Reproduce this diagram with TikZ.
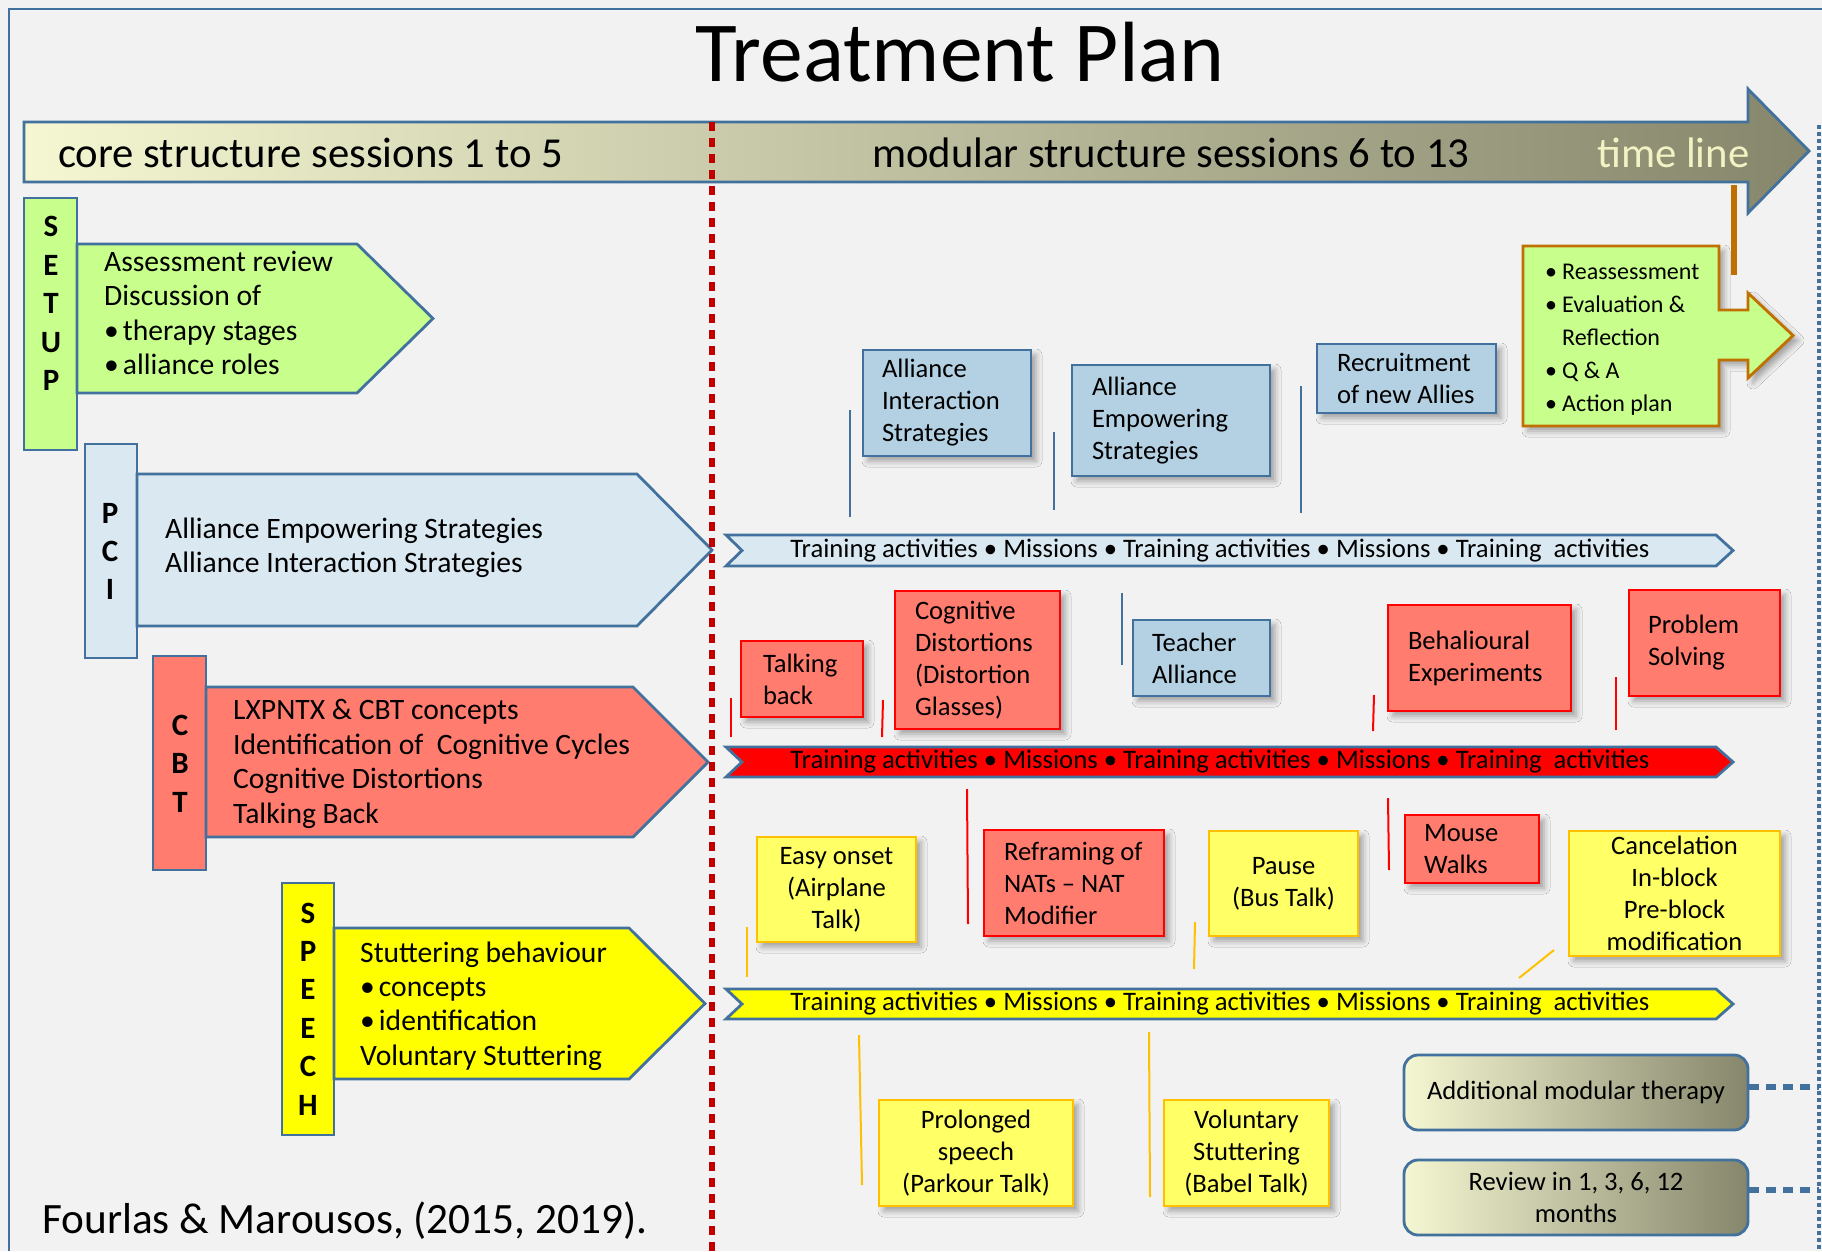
\documentclass[tikz,border=0pt]{standalone}
\usepackage{fontspec}
\setmainfont{Carlito}
\usetikzlibrary{shadows.blur}
\definecolor{bg}{HTML}{F2F2F2}
\definecolor{frame}{HTML}{41719C}
\definecolor{setupg}{HTML}{C8FF8C}
\definecolor{pcib}{HTML}{DAE8F1}
\definecolor{salmon}{HTML}{FF7C6E}
\definecolor{yel}{HTML}{FFFF00}
\definecolor{boxblue}{HTML}{B4D1E3}
\definecolor{boxyel}{HTML}{FFFF66}
\definecolor{gold}{HTML}{FFC000}
\definecolor{redl}{HTML}{FF0000}
\definecolor{darkred}{HTML}{C00000}
\definecolor{orng}{HTML}{C07000}
\definecolor{tlL}{HTML}{F5F7D2}
\definecolor{tlR}{HTML}{86866C}
\definecolor{cream}{HTML}{F2F2C4}
\newcommand\fsz[2]{\fontsize{#1}{#2}\selectfont}
\begin{document}
\begin{tikzpicture}[x=1pt,y=-1pt,
  shp/.style={draw=frame, line width=2.8pt},
  lblbox/.style={shp, inner sep=0pt},
  lbltxt/.style={font=\bfseries\fsz{31}{38.4}, align=center, inner sep=0pt},
  arrtxt/.style={anchor=west, align=left, font=\fsz{29.6}{34.4}, inner sep=0pt},
  tbar/.style={draw=frame, line width=2.8pt},
  bartxt/.style={font=\fsz{26.7}{30}, inner sep=0pt},
  shad/.style={blur shadow={shadow xshift=5pt, shadow yshift=-5pt, shadow blur radius=6pt, shadow opacity=35}},
  note/.style={shad, font=\fsz{26.6}{32}, inner ysep=0pt, line width=2.8pt},
  bluebox/.style={note, draw=frame, fill=boxblue, align=flush left},
  redbox/.style={note, draw=redl, fill=salmon, align=flush left},
  yelbox/.style={note, draw=gold, fill=boxyel, align=center, inner xsep=0pt},
  gbox/.style={draw=frame, line width=2.8pt, rounded corners=14pt, left color=tlL, right color=tlR, font=\fsz{26.6}{32}, minimum width=344pt, minimum height=75pt, align=center, inner sep=0pt},
  bltick/.style={frame, line width=2pt},
  rdtick/.style={redl, line width=2pt},
  ywtick/.style={gold, line width=2pt},
  dashconn/.style={frame, line width=6pt, dash pattern=on 10pt off 7pt}
]
\useasboundingbox (0,0) rectangle (1822,1251);
\fill[bg] (0,0) rectangle (1822,1251);
\draw[frame, line width=2.8pt] (9,1251) -- (9,9) -- (1822,9);

% title
\node[anchor=base, font=\fsz{85.5}{90}, inner sep=0pt] (title) at (960,81) {Treatment Plan};

% time line arrow
\path[draw=frame, line width=2.8pt, left color=tlL, right color=tlR]
  (24,122) -- (1748,122) -- (1748,89) -- (1809,151) -- (1748,213) -- (1748,182) -- (24,182) -- cycle;
\node[anchor=base west, font=\fsz{42.7}{48}, inner sep=0pt] (core) at (58,167) {core structure sessions 1 to 5};
\node[anchor=base west, font=\fsz{42.7}{48}, inner sep=0pt] (modular) at (872,167) {modular structure sessions 6 to 13};
\node[anchor=base west, font=\fsz{42.7}{48}, inner sep=0pt, text=cream] (tline) at (1597,167) {time line};

% SETUP
\node[lblbox, fill=setupg, minimum width=53pt, minimum height=252pt] (setupbox) at (50.5,324) {};
\node[lbltxt] (setuplbl) at (51,303.5) {S\\E\\T\\U\\P};
\path[shp, fill=setupg] (77,244) -- (357,244) -- (433,318.5) -- (357,393) -- (77,393) -- cycle;
\node[arrtxt] (setuptxt) at (104,313) {Assessment review\\Discussion of\\•\kern4pt therapy stages\\•\kern4pt alliance roles};

% PCI
\node[lblbox, fill=pcib, minimum width=52pt, minimum height=214pt] (pcibox) at (111,551) {};
\node[lbltxt] (pcilbl) at (110,551.5) {P\\C\\I};
\path[shp, fill=pcib] (137,474) -- (637,474) -- (712,550) -- (637,626) -- (137,626) -- cycle;
\node[arrtxt] (pcitxt) at (165,548) {Alliance Empowering Strategies\\Alliance Interaction Strategies};

% CBT
\node[lblbox, fill=salmon, minimum width=53pt, minimum height=214pt] (cbtbox) at (179.5,763) {};
\node[lbltxt] (cbtlbl) at (180,763.5) {C\\B\\T};
\path[shp, fill=salmon] (206,687) -- (633,687) -- (708,762) -- (633,837) -- (206,837) -- cycle;
\node[arrtxt] (cbttxt) at (233,764) {LXPNTX \& CBT concepts\\Identification of\ \ Cognitive Cycles\\Cognitive Distortions\\Talking Back};

% SPEECH
\node[lblbox, fill=yel, minimum width=52pt, minimum height=252pt] (spbox) at (308,1009) {};
\node[lbltxt] (splbl) at (308,1009) {S\\P\\E\\E\\C\\H};
\path[shp, fill=yel] (334,928) -- (629,928) -- (705,1003.5) -- (629,1079) -- (334,1079) -- cycle;
\node[arrtxt] (sptxt) at (360,1006) {Stuttering behaviour\\•\kern4pt concepts\\•\kern4pt identification\\Voluntary Stuttering};

\node[anchor=base west, font=\fsz{43.3}{48}, inner sep=0pt] (cite) at (42,1233) {Fourlas \& Marousos, (2015, 2019).};

% training bars
\path[tbar, fill=pcib] (726,535) -- (1716,535) -- (1733,550.5) -- (1716,566) -- (726,566) -- (742,550.5) -- cycle;
\node[bartxt] (pcibar) at (1220,550.5) {Training activities • Missions • Training activities • Missions • Training\ \ activities};
\path[tbar, fill=redl] (726,747) -- (1716,747) -- (1733,762) -- (1716,777) -- (726,777) -- (742,762) -- cycle;
\node[bartxt] (cbtbar) at (1220,762) {Training activities • Missions • Training activities • Missions • Training\ \ activities};
\path[tbar, fill=yel] (726,989) -- (1716,989) -- (1733,1004) -- (1716,1019) -- (726,1019) -- (742,1004) -- cycle;
\node[bartxt] (spbar) at (1220,1004) {Training activities • Missions • Training activities • Missions • Training\ \ activities};

% ticks
\draw[bltick] (850,410) -- (850,517);
\draw[bltick] (1054,432) -- (1054,510);
\draw[bltick] (1301,386) -- (1301,513);
\draw[bltick] (1122,593) -- (1122,665);
\draw[rdtick] (731,698) -- (731,737);
\draw[rdtick] (883,700) -- (882,737);
\draw[rdtick] (1374,695) -- (1373,731);
\draw[rdtick] (1616,677) -- (1616,730);
\draw[rdtick] (967,789) -- (968,924);
\draw[rdtick] (1388,798) -- (1389,870);
\draw[ywtick] (747,927) -- (747,977);
\draw[ywtick] (1195,922) -- (1194,969);
\draw[ywtick] (1554,950) -- (1519,978);
\draw[ywtick] (859,1035) -- (862,1185);
\draw[ywtick] (1149,1032) -- (1150,1197);

% reassessment
\draw[orng, line width=6pt] (1734,185) -- (1734,275);
\path[shad, draw=orng, line width=2.8pt, fill=setupg]
  (1523,246) -- (1719,246) -- (1719,310) -- (1748,310) -- (1748,293) -- (1793,335.5) -- (1748,378) -- (1748,360) -- (1719,360) -- (1719,426) -- (1523,426) -- cycle;
\node[anchor=west, align=left, font=\fsz{24}{33}, inner sep=0pt] (reass) at (1545,340)
  {\makebox[17pt][l]{•}Reassessment\\\makebox[17pt][l]{•}Evaluation \&\\\makebox[17pt][l]{}Reflection\\\makebox[17pt][l]{•}Q \& A\\\makebox[17pt][l]{•}Action plan};

% blue notes
\node[bluebox, text width=130pt, inner xsep=19pt, minimum height=106pt] (ais) at (947,403) {Alliance\\Interaction\\Strategies};
\node[bluebox, text width=158pt, inner xsep=20pt, minimum height=111pt] (aes) at (1171,420.5) {Alliance\\Empowering\\Strategies};
\node[bluebox, text width=139pt, inner xsep=20pt, minimum height=69pt] (recr) at (1406.5,378.5) {\mbox{Recruitment}\\\mbox{of new Allies}};
\node[bluebox, text width=99pt, inner xsep=19pt, minimum height=76pt] (teach) at (1201.5,658) {Teacher\\Alliance};

% red notes
\node[redbox, text width=78pt, inner xsep=22pt, minimum height=76pt] (talk) at (802,679) {Talking\\back};
\node[redbox, text width=125pt, inner xsep=20pt, minimum height=138pt] (cogd) at (977.5,660) {\mbox{Cognitive}\\\mbox{Distortions}\\\mbox{(Distortion}\\\mbox{Glasses)}};
\node[redbox, text width=143pt, inner xsep=20pt, minimum height=106pt] (behav) at (1479.5,658) {\mbox{Behalioural}\\\mbox{Experiments}};
\node[redbox, text width=113pt, inner xsep=19pt, minimum height=106pt] (probl) at (1704.5,643) {Problem\\Solving};
\node[redbox, text width=140pt, inner xsep=20pt, minimum height=106pt] (refr) at (1074,883) {\mbox{Reframing of}\\\mbox{NATs -- NAT}\\\mbox{Modifier}};
\node[redbox, text width=96pt, inner xsep=19pt, minimum height=68pt] (mouse) at (1472,849) {Mouse\\Walks};

% yellow notes
\node[yelbox, minimum width=159pt, minimum height=105pt] (easy) at (836.5,889.5) {Easy onset\\(Airplane\\Talk)};
\node[yelbox, minimum width=149pt, minimum height=105pt] (pause) at (1283.5,883.5) {Pause\\(Bus Talk)};
\node[yelbox, minimum width=211pt, minimum height=125pt] (cancel) at (1674.5,893.5) {Cancelation\\In-block\\Pre-block\\modification};
\node[yelbox, minimum width=194pt, minimum height=106pt] (prol) at (976,1153) {Prolonged\\speech\\(Parkour Talk)};
\node[yelbox, minimum width=165pt, minimum height=106pt] (volst) at (1246.5,1153) {Voluntary\\Stuttering\\(Babel Talk)};

% gradient boxes
\node[gbox] (addl) at (1576,1092.5) {Additional modular therapy};
\node[gbox] (review) at (1576,1197.5) {Review in 1, 3, 6, 12\\months};

% right dotted line and dashed connectors
\coordinate (rtop) at (1819,125);
\coordinate (rbot) at (1819,1251);
\coordinate (r1) at (1819,1087);
\coordinate (r2) at (1819,1190);
\draw[frame, line width=4pt, dash pattern=on 4pt off 3pt] (rtop) -- (rbot);
\draw[dashconn] ([yshift=5.5pt]addl.east) -- (r1);
\draw[dashconn] ([yshift=7.5pt]review.east) -- (r2);

% red dotted separator
\coordinate (sepTop) at (712,122);
\coordinate (sepBot) at (712,1251);
\draw[darkred, line width=6pt, dash pattern=on 9pt off 7pt] (sepTop) -- (sepBot);
\end{tikzpicture}
\end{document}
